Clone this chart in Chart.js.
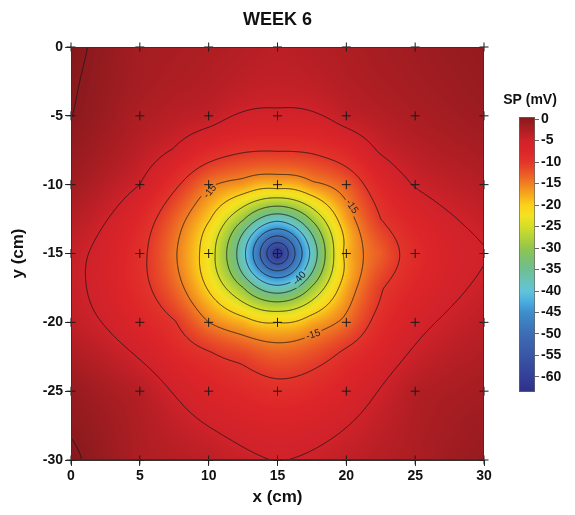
<!DOCTYPE html>
<html>
<head>
<meta charset="utf-8">
<script src="https://cdn.jsdelivr.net/npm/chart.js@4.4.1/dist/chart.umd.min.js"></script>
<style>
  html, body { margin: 0; padding: 0; background: #fff; }
  #wrap { position: relative; width: 575px; height: 515px; }
  #main { position: absolute; left: 0; top: 0; }
  #bar { position: absolute; left: 495px; top: 87px; }
</style>
</head>
<body>
<div id="wrap">
  <canvas id="main" width="575" height="515"></canvas>
  <canvas id="bar" width="80" height="320"></canvas>
</div>
<script>
// ---------------------------------------------------------
// DATA (SP in mV)
// ---------------------------------------------------------
const xPos = [0, 5, 10, 15, 20, 25, 30];
const yPos = [0, -5, -10, -15, -20, -25, -30];

// electrode readings: one row per y position, columns follow xPos
const spY0  = [ 0.5, -1.8,  -2.5,  -3.5,  -2.5, -1.5, -0.6];
const spY5  = [ 0.05, -2.5, -3.8,  -5.5,  -3.8, -2.3, -1.2];
const spY10 = [-1.5, -5.0, -14.5, -18.0, -13.0, -4.8, -3.0];
const spY15 = [-4.2, -9.0, -22.5, -63.5, -18.5, -8.5, -5.2];
const spY20 = [-3.8, -7.3, -15.0, -20.0, -14.0, -5.9, -3.5];
const spY25 = [-0.8, -3.0,  -7.0,  -9.0,  -6.8, -2.8, -1.8];
const spY30 = [ 0.4, -2.5,  -3.5,  -5.1,  -3.8, -2.3, -0.8];
const spRows = [spY0, spY5, spY10, spY15, spY20, spY25, spY30];

// extra readings of the coloured map between electrodes (central zone)
const mapX = [12.5, 17.5, 15, 15, 12.5, 17.5, 12.5, 17.5, 10, 10, 20, 20, 12.5, 17.5, 12.5, 17.5,
              7.5, 22.5, 15, 15, 7.5, 7.5, 7.5, 7.5, 7.5, 7.5, 22.5, 22.5, 22.5, 22.5, 22.5, 22.5,
              10, 12.5, 17.5, 20, 10, 12.5, 17.5, 20];
const mapY = [-15, -15, -12.5, -17.5, -12.5, -12.5, -17.5, -17.5, -12.5, -17.5, -12.5, -17.5, -10, -10, -20, -20,
              -15, -15, -7.5, -22.5, -12.5, -17.5, -10, -20, -7.5, -22.5, -7.5, -22.5, -10, -12.5, -17.5, -20,
              -7.5, -7.5, -7.5, -7.5, -22.5, -22.5, -22.5, -22.5];
const mapV = [-38.5, -38.6, -38.6, -38.3, -29.5, -29.3, -29.8, -29.3, -19.5, -20.5, -17.0, -17.5, -16.5, -15.8, -18.0, -17.5,
              -14.5, -12.9, -9.8, -12.7, -13.0, -13.2, -9.2, -9.7, -5.2, -7.5, -4.6, -6.7, -7.6, -10.0, -10.3, -8.5,
              -8.0, -9.6, -9.5, -7.8, -9.2, -10.8, -11.5, -8.8];

const xTicks = [0, 5, 10, 15, 20, 25, 30];
const yTicks = [0, -5, -10, -15, -20, -25, -30];
const contourLevels = [0, -5, -10, -15, -20, -25, -30, -35, -40, -45, -50, -55, -60];
const cbTicks = [0, -5, -10, -15, -20, -25, -30, -35, -40, -45, -50, -55, -60];
const cbMin = -63.5;
const cbMax = 0.5;

const labelText  = ['-15', '-15', '-15', '-40'];
const labelX     = [10.1, 20.4, 17.6, 16.6];
const labelY     = [-10.5, -11.6, -20.9, -16.8];
const labelAngle = [-50, 55, -18, -48];

const FONT = "'Liberation Sans', Arial, sans-serif";

// colour ramp (value -> colour)
const cmap = [
    [0.5, '#861719'], [0, '#8c1a1e'], [-2.5, '#ae1e23'], [-5, '#d0222a'],
    [-7.5, '#dd2529'], [-10, '#e2352a'], [-12.5, '#ea5726'], [-15, '#f07f22'],
    [-17.5, '#f6a81d'], [-20, '#fbd11a'], [-22.5, '#f3e222'], [-25, '#d5de28'],
    [-27.5, '#b3d23a'], [-30, '#92c64c'], [-32.5, '#7cc070'], [-35, '#6ebf92'],
    [-37.5, '#68c3b6'], [-40, '#62c4da'], [-42.5, '#4aaddf'], [-45, '#3e8ecb'],
    [-47.5, '#3d7dc0'], [-50, '#3d6db4'], [-55, '#3a56a6'], [-60, '#343f98'],
    [-63.5, '#2d3187']
];

function hexRgb(h) {
    return [parseInt(h.substr(1, 2), 16), parseInt(h.substr(3, 2), 16), parseInt(h.substr(5, 2), 16)];
}
const cmapRgb = cmap.map(s => [s[0], hexRgb(s[1])]);

function colorAt(v) {
    if (v >= cmapRgb[0][0]) return cmapRgb[0][1];
    for (let k = 1; k < cmapRgb.length; k++) {
        const [v1, c1] = cmapRgb[k];
        if (v >= v1) {
            const [v0, c0] = cmapRgb[k - 1];
            const t = (v0 - v) / (v0 - v1);
            return [c0[0] + (c1[0] - c0[0]) * t, c0[1] + (c1[1] - c0[1]) * t, c0[2] + (c1[2] - c0[2]) * t];
        }
    }
    return cmapRgb[cmapRgb.length - 1][1];
}

// ---------------------------------------------------------
// KRIGING (linear variogram)
// ---------------------------------------------------------
const pts = [];
spRows.forEach((row, j) => row.forEach((v, i) => pts.push({ x: xPos[i], y: yPos[j], v: v })));
mapV.forEach((v, k) => pts.push({ x: mapX[k], y: mapY[k], v: v }));

function solveKriging() {
    const n = pts.length;
    const m = [];
    for (let i = 0; i < n; i++) {
        const row = [];
        for (let j = 0; j < n; j++) row.push(Math.hypot(pts[i].x - pts[j].x, pts[i].y - pts[j].y));
        row.push(1, pts[i].v);
        m.push(row);
    }
    const last = [];
    for (let j = 0; j < n; j++) last.push(1);
    last.push(0, 0);
    m.push(last);
    const N = n + 1;
    for (let c = 0; c < N; c++) {
        let p = c;
        for (let r = c + 1; r < N; r++) if (Math.abs(m[r][c]) > Math.abs(m[p][c])) p = r;
        [m[c], m[p]] = [m[p], m[c]];
        for (let r = 0; r < N; r++) {
            if (r === c) continue;
            const f = m[r][c] / m[c][c];
            if (f === 0) continue;
            for (let k = c; k <= N; k++) m[r][k] -= f * m[c][k];
        }
    }
    return m.map((row, i) => row[N] / row[i]);
}
const kw = solveKriging();

function krige(x, y) {
    let s = kw[pts.length];
    for (let i = 0; i < pts.length; i++) s += kw[i] * Math.hypot(x - pts[i].x, y - pts[i].y);
    return s;
}

// ---------------------------------------------------------
// FIELD PLUGIN: colour map + contours
// ---------------------------------------------------------
const fieldPlugin = {
    id: 'spField',
    beforeDatasetsDraw(chart) {
        const { ctx, chartArea: a, scales: { x, y } } = chart;
        const W = Math.round(a.right - a.left), H = Math.round(a.bottom - a.top);
        const g = new Float32Array(W * H);
        for (let j = 0; j < H; j++) {
            const yv = y.getValueForPixel(a.top + j + 0.5);
            for (let i = 0; i < W; i++) g[j * W + i] = krige(x.getValueForPixel(a.left + i + 0.5), yv);
        }

        // heat map
        const off = document.createElement('canvas');
        off.width = W; off.height = H;
        const octx = off.getContext('2d');
        const img = octx.createImageData(W, H);
        for (let k = 0; k < W * H; k++) {
            const c = colorAt(g[k]);
            img.data[k * 4] = c[0]; img.data[k * 4 + 1] = c[1]; img.data[k * 4 + 2] = c[2]; img.data[k * 4 + 3] = 255;
        }
        octx.putImageData(img, 0, 0);
        ctx.drawImage(off, a.left, a.top);

        // label gaps
        ctx.save();
        ctx.font = '10px ' + FONT;
        ctx.beginPath();
        ctx.rect(a.left, a.top, W, H);
        labelText.forEach((t, k) => {
            const cx = x.getPixelForValue(labelX[k]), cy = y.getPixelForValue(labelY[k]);
            const hw = ctx.measureText(t).width / 2 + 2, hh = 5;
            const an = labelAngle[k] * Math.PI / 180, ca = Math.cos(an), sa = Math.sin(an);
            const corners = [[-hw, -hh], [hw, -hh], [hw, hh], [-hw, hh]];
            corners.forEach((p, q) => {
                const px = cx + p[0] * ca - p[1] * sa, py = cy + p[0] * sa + p[1] * ca;
                if (q === 0) ctx.moveTo(px, py); else ctx.lineTo(px, py);
            });
            ctx.closePath();
        });
        ctx.clip('evenodd');

        // contours (marching squares on the pixel grid)
        ctx.beginPath();
        for (let j = 0; j < H - 1; j++) {
            for (let i = 0; i < W - 1; i++) {
                const va = g[j * W + i], vb = g[j * W + i + 1], vc = g[(j + 1) * W + i + 1], vd = g[(j + 1) * W + i];
                const lo = Math.min(va, vb, vc, vd), hi = Math.max(va, vb, vc, vd);
                for (const L of contourLevels) {
                    if (L < lo || L >= hi) continue;
                    const sa = va >= L, sb = vb >= L, sc = vc >= L, sd = vd >= L;
                    const px = a.left + i + 0.5, py = a.top + j + 0.5;
                    const e = [
                        sa !== sb ? [px + (L - va) / (vb - va), py] : null,
                        sb !== sc ? [px + 1, py + (L - vb) / (vc - vb)] : null,
                        sd !== sc ? [px + (L - vd) / (vc - vd), py + 1] : null,
                        sa !== sd ? [px, py + (L - va) / (vd - va)] : null
                    ];
                    const got = e.filter(p => p);
                    if (got.length === 2) {
                        ctx.moveTo(got[0][0], got[0][1]); ctx.lineTo(got[1][0], got[1][1]);
                    } else if (got.length === 4) {
                        const sm = (va + vb + vc + vd) / 4 >= L;
                        if (sm === sa) {
                            ctx.moveTo(e[0][0], e[0][1]); ctx.lineTo(e[1][0], e[1][1]);
                            ctx.moveTo(e[2][0], e[2][1]); ctx.lineTo(e[3][0], e[3][1]);
                        } else {
                            ctx.moveTo(e[0][0], e[0][1]); ctx.lineTo(e[3][0], e[3][1]);
                            ctx.moveTo(e[1][0], e[1][1]); ctx.lineTo(e[2][0], e[2][1]);
                        }
                    }
                }
            }
        }
        ctx.strokeStyle = 'rgba(25,25,25,0.9)';
        ctx.lineWidth = 0.9;
        ctx.stroke();
        ctx.restore();

        // contour labels
        ctx.save();
        ctx.font = '10px ' + FONT;
        ctx.fillStyle = '#222';
        ctx.textAlign = 'center';
        ctx.textBaseline = 'middle';
        labelText.forEach((t, k) => {
            ctx.save();
            ctx.translate(x.getPixelForValue(labelX[k]), y.getPixelForValue(labelY[k]));
            ctx.rotate(labelAngle[k] * Math.PI / 180);
            ctx.fillText(t, 0, 0);
            ctx.restore();
        });
        ctx.restore();
    },
    afterDatasetsDraw(chart) {
        const { ctx, chartArea: a } = chart;
        ctx.save();
        ctx.strokeStyle = '#333';
        ctx.lineWidth = 1;
        ctx.strokeRect(a.left + 0.5, a.top + 0.5, a.right - a.left - 1, a.bottom - a.top - 1);
        ctx.restore();
    },
    afterDraw(chart) {
        const { ctx, chartArea: a } = chart;
        ctx.save();
        ctx.font = 'bold 18px ' + FONT;
        ctx.fillStyle = '#111';
        ctx.textAlign = 'center';
        ctx.textBaseline = 'middle';
        ctx.fillText('WEEK 6', (a.left + a.right) / 2, 20);
        ctx.restore();
    }
};

// electrode positions (the + marks)
const markers = [];
yPos.forEach(yv => xPos.forEach(xv => markers.push({ x: xv, y: yv })));

const axisFont = { family: FONT, size: 14, weight: 'bold' };
const titleFont = { family: FONT, size: 17, weight: 'bold' };

new Chart(document.getElementById('main'), {
    type: 'scatter',
    data: {
        datasets: [{
            data: markers,
            pointStyle: 'cross',
            pointRadius: 4.5,
            pointBorderWidth: 1,
            borderColor: '#1a1a1a',
            clip: false
        }]
    },
    options: {
        responsive: false,
        animation: false,
        events: [],
        layout: { padding: { top: 47, right: 91, left: 0, bottom: 0 } },
        plugins: { legend: { display: false }, tooltip: { enabled: false } },
        scales: {
            x: {
                type: 'linear', min: 0, max: 30, position: 'bottom', z: 1,
                afterBuildTicks: s => { s.ticks = xTicks.map(v => ({ value: v })); },
                afterFit: s => { s.height = 55; },
                grid: { drawOnChartArea: false, drawTicks: true, tickLength: 6, color: '#333' },
                border: { display: true, color: '#333', width: 1 },
                ticks: { font: axisFont, color: '#111', padding: 2, maxRotation: 0 },
                title: { display: true, text: 'x (cm)', font: titleFont, color: '#111', padding: 7 }
            },
            y: {
                type: 'linear', min: -30, max: 0, position: 'left', z: 1,
                afterBuildTicks: s => { s.ticks = yTicks.map(v => ({ value: v })); },
                afterFit: s => { s.width = 71; },
                grid: { drawOnChartArea: false, drawTicks: true, tickLength: 6, color: '#333' },
                border: { display: true, color: '#333', width: 1 },
                ticks: { font: axisFont, color: '#111', padding: 2 },
                title: { display: true, text: 'y (cm)', font: titleFont, color: '#111', padding: 8 }
            }
        }
    },
    plugins: [fieldPlugin]
});

// ---------------------------------------------------------
// COLOUR BAR
// ---------------------------------------------------------
const barTitlePlugin = {
    id: 'barTitle',
    afterDraw(chart) {
        const { ctx, chartArea: a } = chart;
        ctx.save();
        ctx.font = 'bold 14px ' + FONT;
        ctx.fillStyle = '#111';
        ctx.textAlign = 'center';
        ctx.textBaseline = 'middle';
        ctx.fillText('SP (mV)', 35, a.top - 17);
        ctx.restore();
    }
};

new Chart(document.getElementById('bar'), {
    type: 'bar',
    data: {
        labels: ['SP'],
        datasets: [{
            data: [[cbMin, cbMax]],
            barPercentage: 1,
            categoryPercentage: 1,
            borderWidth: 1,
            borderColor: '#666',
            borderSkipped: false,
            backgroundColor: ctx => {
                const { chartArea, scales } = ctx.chart;
                if (!chartArea) return '#ccc';
                const ys = scales.y;
                const top = ys.getPixelForValue(cbMax), bot = ys.getPixelForValue(cbMin);
                const gr = ctx.chart.ctx.createLinearGradient(0, top, 0, bot);
                cmap.forEach(s => gr.addColorStop((ys.getPixelForValue(s[0]) - top) / (bot - top), s[1]));
                return gr;
            }
        }]
    },
    options: {
        responsive: false,
        animation: false,
        events: [],
        layout: { padding: { top: 30, left: 24, right: 0, bottom: 15 } },
        plugins: { legend: { display: false }, tooltip: { enabled: false } },
        scales: {
            x: { display: false },
            y: {
                position: 'right', min: cbMin, max: cbMax,
                afterBuildTicks: s => { s.ticks = cbTicks.map(v => ({ value: v })); },
                afterFit: s => { s.width = 40; },
                grid: { drawOnChartArea: false, drawTicks: true, tickLength: 4, color: '#666' },
                border: { display: false },
                ticks: { font: { family: FONT, size: 14, weight: 'bold' }, color: '#111', padding: 2 }
            }
        }
    },
    plugins: [barTitlePlugin]
});
</script>
</body>
</html>
